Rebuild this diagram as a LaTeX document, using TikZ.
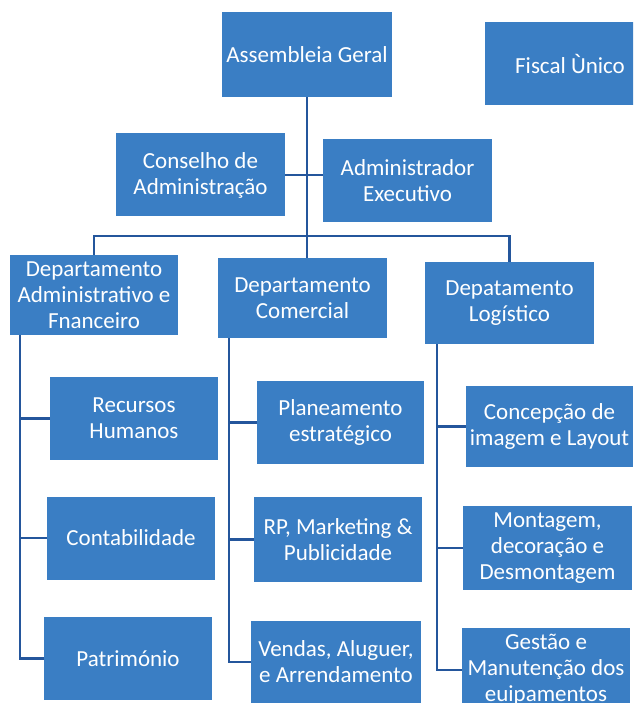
\documentclass[tikz,border=0pt]{standalone}
\usepackage{fontspec}
\setmainfont{Carlito}
\definecolor{boxblue}{RGB}{58,126,196}
\definecolor{lineblue}{RGB}{36,86,156}
\begin{document}
\begin{tikzpicture}[x=1pt,y=-1pt,
  orgbox/.style={fill=boxblue, text=white, align=center, inner sep=0pt,
    minimum width=168pt, minimum height=83pt,
    font=\fontsize{23}{26}\selectfont},
  link/.style={draw=lineblue, line width=2.6pt}]
\useasboundingbox (0,0) rectangle (633,703);
\begin{scope}
\clip (0,0) rectangle (633,703);
% top level
\node[orgbox, minimum width=170pt, minimum height=85pt] (ag) at (307,54.5) {Assembleia Geral};
\node[orgbox, minimum width=170pt] (fu) at (570,63.5) {Fiscal Ùnico};
% second level
\node[orgbox, minimum width=169pt] (ca) at (200.5,175) {Conselho de\\Administração};
\node[orgbox, minimum width=169pt] (ae) at (407.5,181) {Administrador\\Executivo};
% departments
\node[orgbox, minimum height=80pt] (da) at (94,295) {Departamento\\Administrativo e\\Fnanceiro};
\node[orgbox, minimum height=80pt, minimum width=169pt] (dc) at (302.5,298) {Departamento\\Comercial};
\node[orgbox, minimum height=82pt, minimum width=169pt] (dl) at (509.5,303) {Depatamento\\Logístico};
% sub units
\node[orgbox] (rh) at (134,418.5) {Recursos\\Humanos};
\node[orgbox] (ct) at (131,538) {Contabilidade};
\node[orgbox] (pt) at (128,658.5) {Património};
\node[orgbox, minimum width=167pt] (pl) at (340.5,422.5) {Planeamento\\estratégico};
\node[orgbox, minimum height=85pt] (rp) at (338,539.5) {RP, Marketing \&\\Publicidade};
\node[orgbox, minimum width=170pt] (vd) at (336,662) {Vendas, Aluguer,\\e Arrendamento};
\node[orgbox, minimum width=167pt, minimum height=81pt] (ci) at (549.5,426.5) {Concepção de\\imagem e Layout};
\node[orgbox, minimum width=169pt, minimum height=84pt] (mo) at (547.5,548) {Montagem,\\decoração e\\Desmontagem};
\node[orgbox, minimum height=84pt] (ge) at (546,670) {Gestão e\\Manutenção dos\\euipamentos};
\end{scope}
% connectors
\coordinate (bus) at (0,236);
\draw[link] (ag.south) -- (ag.south |- dc.north);
\draw[link] (ca.east) -- (ca.east -| ae.west);
\draw[link] (da.north) -- (da.north |- bus) -- (dl.north |- bus) -- (dl.north);
% left spine
\draw[link] ([xshift=10pt]da.south west) coordinate (s1) |- (pt.west);
\draw[link] (s1 |- rh.west) -- (rh.west);
\draw[link] (s1 |- ct.west) -- (ct.west);
% middle spine
\draw[link] ([xshift=11pt]dc.south west) coordinate (s2) |- (vd.west);
\draw[link] (s2 |- pl.west) -- (pl.west);
\draw[link] (s2 |- rp.west) -- (rp.west);
% right spine
\draw[link] ([xshift=12pt]dl.south west) coordinate (s3) |- (ge.west);
\draw[link] (s3 |- ci.west) -- (ci.west);
\draw[link] (s3 |- mo.west) -- (mo.west);
\end{tikzpicture}
\end{document}
